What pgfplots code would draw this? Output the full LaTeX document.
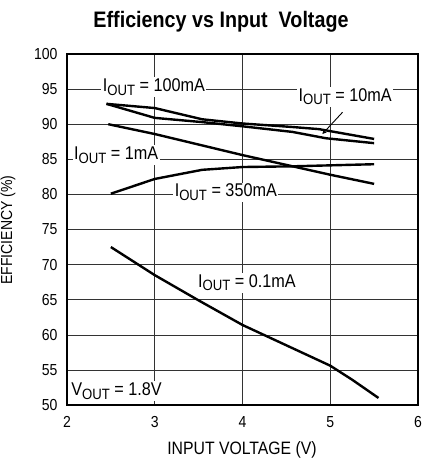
\documentclass[border=0pt]{standalone}
\usepackage{fontspec}
\setmainfont[FakeStretch=0.88]{Liberation Sans}
\usepackage{pgfplots}
\pgfplotsset{compat=1.18}

% I_OUT style label
\newcommand\iout[1]{I\raisebox{-0.35ex}{\fontsize{15}{15}\selectfont OUT} = #1}
\newcommand\vout[1]{V\raisebox{-0.35ex}{\fontsize{15}{15}\selectfont OUT} = #1}

\begin{document}
\begin{tikzpicture}
\path[use as bounding box] (-67bp,-56bp) rectangle (355bp,405bp);
\begin{axis}[
    at={(0,0)}, anchor=south west,
    scale only axis,
    width=351bp, height=351bp,
    xmin=2, xmax=6, ymin=50, ymax=100,
    xtick={2,3,4,5,6},
    ytick={50,55,...,100},
    grid=major,
    major grid style={black!80, line width=0.6bp},
    major tick length=0pt,
    axis line style={line width=1.4bp},
    tick label style={font=\fontsize{16}{16}\selectfont},
    xticklabel style={yshift=-8bp},
    yticklabel style={xshift=-6bp},
    /pgf/number format/assume math mode=true,
    curve/.style={black, line width=2.4bp, no marks},
    clip=false,
]
% I_OUT = 100mA (upper)
\addplot[curve] coordinates {(2.45,92.9)(3.0,92.3)(3.54,90.7)(4.0,90.1)(4.57,89.6)(4.87,89.3)(5.5,87.9)};
% I_OUT = 10mA (lower)
\addplot[curve] coordinates {(2.45,92.9)(3.0,90.9)(3.54,90.3)(4.0,89.7)(4.57,88.9)(4.95,88.0)(5.5,87.3)};
% I_OUT = 1mA
\addplot[curve] coordinates {(2.47,90.0)(3.0,88.6)(3.5,87.1)(4.0,85.6)(4.5,84.2)(5.0,82.8)(5.5,81.5)};
% I_OUT = 350mA
\addplot[curve] coordinates {(2.5,80.1)(3.0,82.2)(3.54,83.5)(4.0,83.9)(4.57,84.0)(5.5,84.3)};
% I_OUT = 0.1mA
\addplot[curve] coordinates {(2.5,72.5)(3.0,68.5)(3.5,64.9)(4.0,61.4)(4.5,58.5)(5.0,55.6)(5.25,53.6)(5.55,51.0)};

\begin{scope}[every node/.style={fill=white, inner sep=1.5bp, font=\fontsize{18.5}{18.5}\selectfont}]
\node at (axis cs:2.99,95.3) {\iout{100mA}};
\node at (axis cs:5.17,93.9) {\iout{10mA}};
\node at (axis cs:2.56,85.6) {\iout{1mA}};
\node at (axis cs:3.81,80.3) {\iout{350mA}};
\node at (axis cs:4.05,67.4) {\iout{0.1mA}};
\node[anchor=west] at (axis cs:2.03,52.0) {\vout{1.8V}};
\end{scope}
\draw[-stealth, line width=0.9bp] (axis cs:5.14,91.7) -- (axis cs:4.91,88.6);
\end{axis}
\node at (154bp,383bp) {\fontsize{22.5}{22.5}\selectfont\bfseries Efficiency vs Input\ \ Voltage};
\node at (175bp,-45bp) {\fontsize{18}{18}\selectfont INPUT VOLTAGE (V)};
\node[rotate=90] at (-59bp,175bp) {\fontsize{16}{16}\selectfont EFFICIENCY (\%)};
\end{tikzpicture}
\end{document}
